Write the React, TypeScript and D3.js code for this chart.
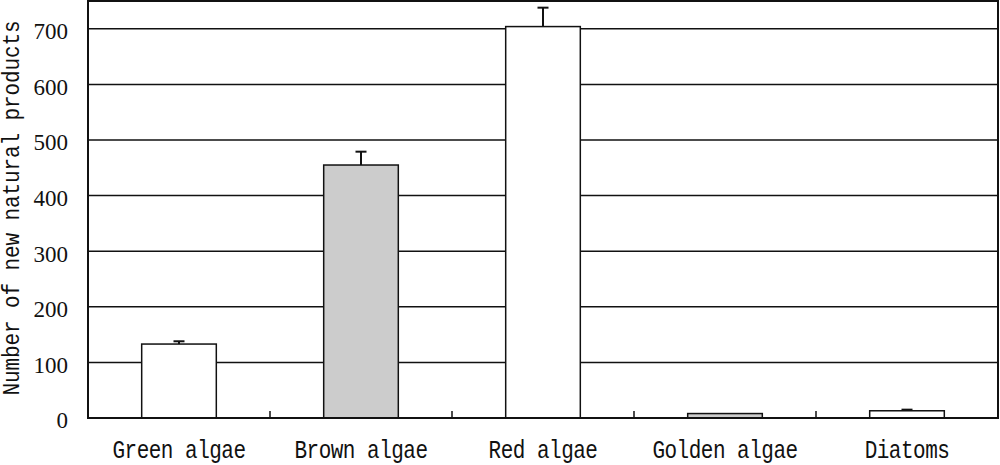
import React from "react";
import * as d3 from "d3";

const categories = ["Green algae", "Brown algae", "Red algae", "Golden algae", "Diatoms"];
const values = [133, 455, 704, 8, 13];
const errors = [5, 24, 34, 0, 2];
const fills = ["#ffffff", "#cccccc", "#ffffff", "#cccccc", "#ffffff"];
const yTicks = [0, 100, 200, 300, 400, 500, 600, 700];
const yTitle = "Number of new natural products";

const W = 1000;
const H = 465;
const left = 88;
const right = 998;
const top = 1;
const bottom = 418;

export default function App() {
  const x = d3.scaleBand<string>().domain(categories).range([left, right]).paddingInner(0).paddingOuter(0);
  const y = d3.scaleLinear().domain([0, 750]).range([bottom, top]);
  const barW = x.bandwidth() * 0.41;
  const capW = 11;
  const stroke = "#111";
  const monoFont = "'Liberation Mono', monospace";
  return (
    <svg width={W} height={H} style={{ position: "fixed", left: 0, top: 0, background: "#fff" }}>
      <rect x={0} y={0} width={W} height={H} fill="#fff" />
      {yTicks.filter((t) => t > 0).map((t) => (
        <line key={"g" + t} x1={left} x2={right} y1={y(t)} y2={y(t)} stroke={stroke} strokeWidth={1.5} />
      ))}
      {categories.map((c, i) => {
        const cx = x(c)! + x.bandwidth() / 2;
        const e = errors[i];
        return (
          <g key={c}>
            {e > 0 && (
              <g>
                <line x1={cx} x2={cx} y1={y(values[i])} y2={y(values[i] + e)} stroke={stroke} strokeWidth={2} />
                <line x1={cx - capW / 2} x2={cx + capW / 2} y1={y(values[i] + e)} y2={y(values[i] + e)} stroke={stroke} strokeWidth={2} />
              </g>
            )}
            <rect x={cx - barW / 2} y={y(values[i])} width={barW} height={y(0) - y(values[i])} fill={fills[i]} stroke={stroke} strokeWidth={1.5} />
          </g>
        );
      })}
      {categories.slice(1).map((c) => (
        <line key={"t" + c} x1={x(c)!} x2={x(c)!} y1={bottom} y2={bottom - 7} stroke={stroke} strokeWidth={1.5} />
      ))}
      <rect x={left} y={top} width={right - left} height={bottom - top} fill="none" stroke={stroke} strokeWidth={2} />
      {yTicks.map((t) => (
        <text key={"l" + t} x={68} y={y(t)} dy="0.45em" textAnchor="end" fontFamily="'Liberation Serif', serif" fontSize={23} fill="#111">
          {t}
        </text>
      ))}
      {categories.map((c) => (
        <text
          key={"x" + c}
          transform={`translate(${x(c)! + x.bandwidth() / 2}, 458) scale(1, 1.2)`}
          textAnchor="middle"
          fontFamily={monoFont}
          fontSize={21}
          letterSpacing={-0.5}
          fill="#111"
        >
          {c}
        </text>
      ))}
      <text
        transform={`translate(19, 208) rotate(-90) scale(1, 1.1)`}
        textAnchor="middle"
        fontFamily={monoFont}
        fontSize={21}
        letterSpacing={-0.1}
        fill="#111"
      >
        {yTitle}
      </text>
    </svg>
  );
}
